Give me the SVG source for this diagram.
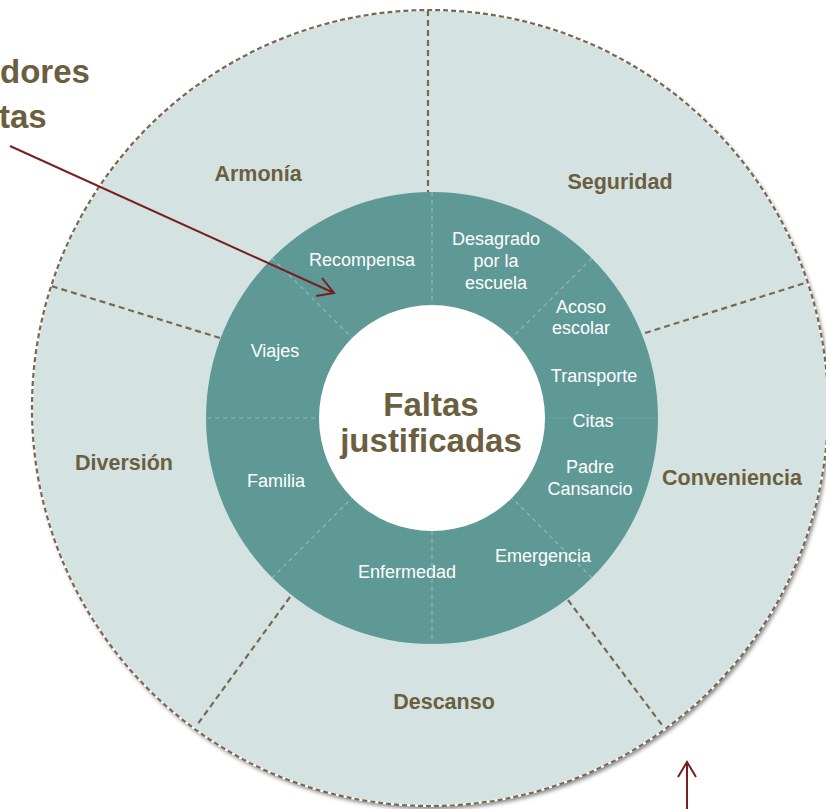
<svg xmlns="http://www.w3.org/2000/svg" width="826" height="809" viewBox="0 0 826 809">
<style>
.outer{font-family:"Liberation Sans",Arial,sans-serif;font-weight:bold;font-size:21.5px;fill:#6b5f3f;text-anchor:middle}
.inner{font-family:"Liberation Sans",Arial,sans-serif;font-size:18px;fill:#ffffff;text-anchor:middle}
.center{font-family:"Liberation Sans",Arial,sans-serif;font-weight:bold;font-size:33px;fill:#6b5f3f;text-anchor:middle}
.title{font-family:"Liberation Sans",Arial,sans-serif;font-weight:bold;font-size:33px;fill:#6b5f3f}
.odiv{stroke:#76694f;stroke-width:2.2;stroke-dasharray:6 4;fill:none}
.idiv{stroke:#a8c6c3;stroke-width:1.2;stroke-dasharray:4 4;fill:none;opacity:0.7}
.arrow{stroke:#7a1f1f;stroke-width:2;fill:none}
</style>
<defs>
<filter id="sh" x="-10%" y="-10%" width="120%" height="120%">
<feGaussianBlur in="SourceAlpha" stdDeviation="2"/>
<feOffset dx="2" dy="3"/>
<feComponentTransfer><feFuncA type="linear" slope="0.5"/></feComponentTransfer>
<feMerge><feMergeNode/><feMergeNode in="SourceGraphic"/></feMerge>
</filter>
</defs>
<rect width="826" height="809" fill="#ffffff"/>
<g id="outer-ring">
<circle cx="430" cy="408" r="398" fill="#d4e3e2" filter="url(#sh)"/>
<circle cx="430" cy="408" r="398" fill="none" stroke="#ffffff" stroke-width="2.2"/>
<circle cx="430" cy="408" r="398" fill="none" stroke="#76694f" stroke-width="2.2" stroke-dasharray="5 3"/>
</g>
<g id="outer-dividers">
<line class="odiv" x1="428" y1="10" x2="428" y2="194"/>
<line class="odiv" x1="645" y1="333" x2="805" y2="283"/>
<line class="odiv" x1="568" y1="600" x2="662" y2="725"/>
<line class="odiv" x1="290" y1="597" x2="197" y2="725"/>
<line class="odiv" x1="220" y1="338" x2="48" y2="285"/>
</g>
<g id="inner-ring">
<circle cx="432" cy="418" r="226" fill="#5e9996"/>
<circle cx="432" cy="418" r="113" fill="#ffffff"/>
</g>
<g id="inner-dividers">
<line class="idiv" x1="432" y1="192" x2="432" y2="305"/>
<line class="idiv" x1="432" y1="531" x2="432" y2="644"/>
<line class="idiv" x1="207" y1="418" x2="319" y2="418"/>
<line class="idiv" x1="545" y1="418" x2="658" y2="418" style="opacity:0.2"/>
<line class="idiv" x1="272" y1="258" x2="352" y2="338"/>
<line class="idiv" x1="592" y1="258" x2="512" y2="338"/>
<line class="idiv" x1="272" y1="578" x2="352" y2="498"/>
<line class="idiv" x1="592" y1="578" x2="512" y2="498"/>
</g>
<g id="outer-labels">
<text class="outer" x="258" y="181">Armonía</text>
<text class="outer" x="620" y="189">Seguridad</text>
<text class="outer" x="124" y="470">Diversión</text>
<text class="outer" x="732" y="485">Conveniencia</text>
<text class="outer" x="444" y="709">Descanso</text>
</g>
<g id="inner-labels">
<text class="inner" x="362" y="266">Recompensa</text>
<text class="inner" x="496" y="245">Desagrado</text>
<text class="inner" x="496" y="267">por la</text>
<text class="inner" x="496" y="289">escuela</text>
<text class="inner" x="581" y="313">Acoso</text>
<text class="inner" x="581" y="334">escolar</text>
<text class="inner" x="594" y="382">Transporte</text>
<text class="inner" x="593" y="427">Citas</text>
<text class="inner" x="590" y="473">Padre</text>
<text class="inner" x="590" y="495">Cansancio</text>
<text class="inner" x="543" y="562">Emergencia</text>
<text class="inner" x="407" y="578">Enfermedad</text>
<text class="inner" x="276" y="487">Familia</text>
<text class="inner" x="275" y="357">Viajes</text>
</g>
<g id="center">
<text class="center" x="431" y="416">Faltas</text>
<text class="center" x="431" y="452">justificadas</text>
</g>
<g id="title">
<text class="title" x="0" y="83">dores</text>
<text class="title" x="-1" y="128">tas</text>
</g>
<g id="connectors">
<line class="arrow" x1="10" y1="146" x2="334" y2="293"/>
<polyline class="arrow" points="316,296 334,293 322,278"/>
<line class="arrow" x1="687" y1="809" x2="687" y2="762"/>
<polyline class="arrow" points="678,777 687,762 696,777"/>
</g>
</svg>
